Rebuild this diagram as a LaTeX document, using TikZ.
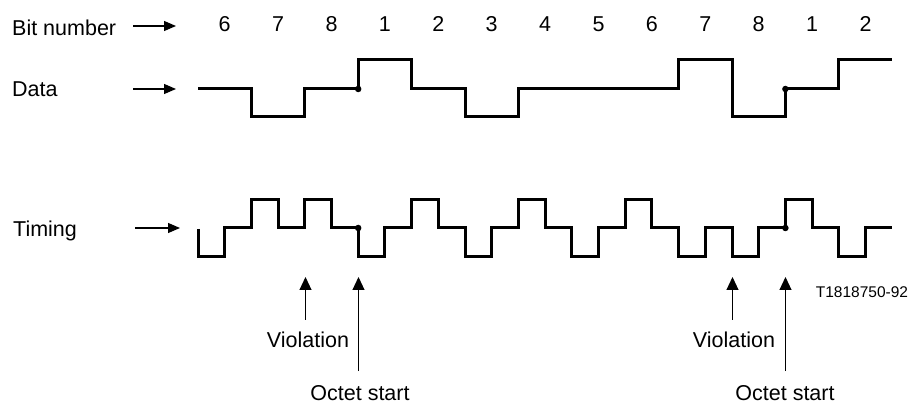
\documentclass[tikz,border=0pt]{standalone}
\usepackage{fontspec}
\setmainfont{Liberation Sans}
\usetikzlibrary{arrows.meta}
\begin{document}
\begin{tikzpicture}[x=1pt,y=-1pt,
  lbl/.style={inner sep=0pt,font=\fontsize{21.5}{24}\selectfont},
  smalllbl/.style={inner sep=0pt,font=\fontsize{15.5}{18}\selectfont},
  wave/.style={line width=3pt,line join=miter,line cap=butt},
  lblarrow/.style={line width=1.2pt,-{Triangle[length=12pt,width=10pt]}},
  markarrow/.style={line width=1.1pt,-{Triangle[length=13pt,width=12pt]}},
  joint/.style={circle,fill=black,inner sep=0pt,minimum size=6.5pt}]
\useasboundingbox (0,0) rectangle (913,403);

% left labels
\node[lbl,anchor=base west] (bitlbl) at (12,36) {Bit number};
\node[lbl,anchor=base west] (datalbl) at (12,97) {Data};
\node[lbl,anchor=base west] (timlbl) at (13,237) {Timing};
\coordinate (bitA) at (133,26);  \coordinate (bitB) at (176,26);
\coordinate (datA) at (133,89);  \coordinate (datB) at (176,89);
\coordinate (timA) at (135,228); \coordinate (timB) at (180,228);
\draw[lblarrow] (bitA) -- (bitB);
\draw[lblarrow] (datA) -- (datB);
\draw[lblarrow] (timA) -- (timB);

% bit numbers
\foreach \n/\k in {6/0,7/1,8/2,1/3,2/4,3/5,4/6,5/7,6/8,7/9,8/10,1/11,2/12}
  \node[lbl,anchor=base] (bit\k) at ({224.7+53.4*\k},32) {\n};

% data waveform
\draw[wave] (198,89) -- (251.4,89) -- (251.4,117) -- (304.8,117) -- (304.8,89)
  -- (358.2,89) -- (358.2,60) -- (411.6,60) -- (411.6,89) -- (465,89)
  -- (465,117) -- (518.4,117) -- (518.4,89) -- (678.6,89) -- (678.6,60)
  -- (732,60) -- (732,117) -- (785.4,117) -- (785.4,89) -- (838.8,89)
  -- (838.8,60) -- (892.2,60);
\node[joint] (d1) at (358.2,89) {};
\node[joint] (d2) at (785.4,89) {};

% timing waveform
\draw[wave] (198,229) -- (198,257) -- (224.7,257) -- (224.7,228) -- (251.4,228)
  -- (251.4,200) -- (278.1,200) -- (278.1,228) -- (304.8,228) -- (304.8,200)
  -- (331.5,200) -- (331.5,228) -- (358.2,228) -- (358.2,257) -- (384.9,257)
  -- (384.9,228) -- (411.6,228) -- (411.6,200) -- (438.3,200) -- (438.3,228)
  -- (465,228) -- (465,257) -- (491.7,257) -- (491.7,228) -- (518.4,228)
  -- (518.4,200) -- (545.1,200) -- (545.1,228) -- (571.8,228) -- (571.8,257)
  -- (598.5,257) -- (598.5,228) -- (625.2,228) -- (625.2,200) -- (651.9,200)
  -- (651.9,228) -- (678.6,228) -- (678.6,257) -- (705.3,257) -- (705.3,228)
  -- (732,228) -- (732,257) -- (758.7,257) -- (758.7,228) -- (785.4,228)
  -- (785.4,200) -- (812.1,200) -- (812.1,228) -- (838.8,228) -- (838.8,257)
  -- (865.5,257) -- (865.5,228) -- (892.2,228);
\node[joint] (t1) at (358.2,228) {};
\node[joint] (t2) at (785.4,228) {};

% markers
\node[lbl,anchor=base] (viol1) at (308,348) {Violation};
\node[lbl,anchor=base] (oct1) at (360,400) {Octet start};
\node[lbl,anchor=base] (viol2) at (734,348) {Violation};
\node[lbl,anchor=base] (oct2) at (785,400) {Octet start};
\node[smalllbl,anchor=base] (ref) at (862,298) {T1818750-92};

\coordinate (v1a) at (305.5,320); \coordinate (v1b) at (305.5,277);
\coordinate (o1a) at (358.5,371); \coordinate (o1b) at (358.5,277);
\coordinate (v2a) at (732.5,320); \coordinate (v2b) at (732.5,277);
\coordinate (o2a) at (785.5,371); \coordinate (o2b) at (785.5,277);
\draw[markarrow] (v1a) -- (v1b);
\draw[markarrow] (o1a) -- (o1b);
\draw[markarrow] (v2a) -- (v2b);
\draw[markarrow] (o2a) -- (o2b);
\end{tikzpicture}
\end{document}
